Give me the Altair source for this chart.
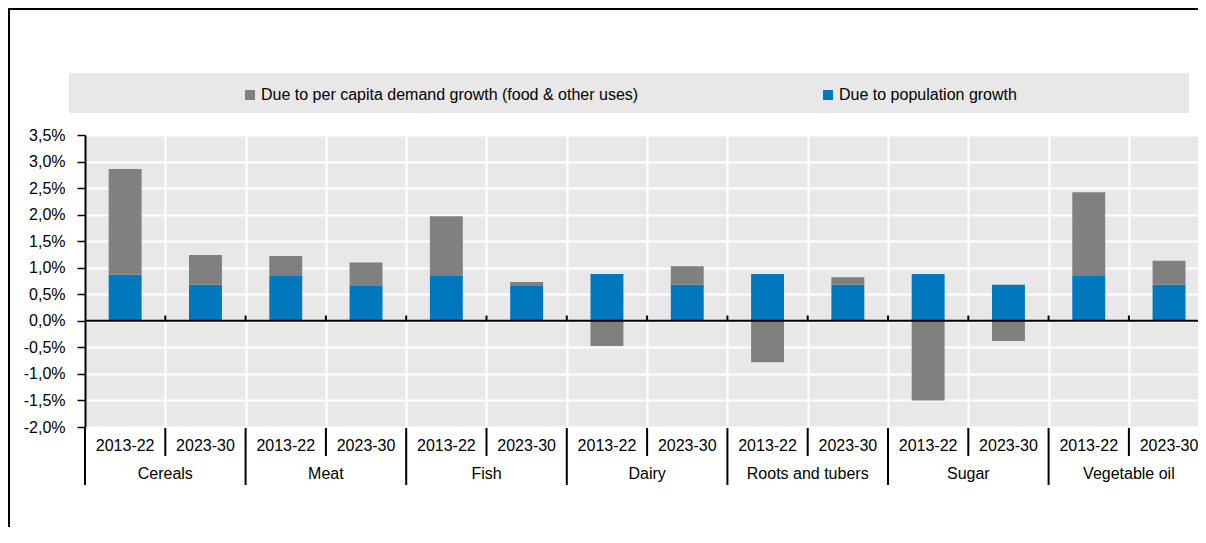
import altair as alt
import pandas as pd

# ---- data ----
groups = ["Cereals", "Meat", "Fish", "Dairy", "Roots and tubers", "Sugar", "Vegetable oil"]
periods = ["2013-22", "2023-30"]
series_names = [
    "Due to per capita demand growth (food & other uses)",
    "Due to population growth",
]
pop_growth = [0.87, 0.68, 0.86, 0.67, 0.86, 0.67, 0.88, 0.68, 0.88, 0.68, 0.88, 0.68, 0.86, 0.68]
per_capita = [1.99, 0.56, 0.36, 0.43, 1.11, 0.06, -0.475, 0.35, -0.78, 0.14, -1.50, -0.38, 1.56, 0.45]
y_ticks = [-2.0, -1.5, -1.0, -0.5, 0.0, 0.5, 1.0, 1.5, 2.0, 2.5, 3.0, 3.5]

# ---- tables built from the arrays ----
rows = []
lab_rows = []
for gi, g in enumerate(groups):
    for pi, p in enumerate(periods):
        i = gi * len(periods) + pi
        rows.append(dict(idx=i, group=g, period=p, series=series_names[1], value=pop_growth[i], order=0))
        rows.append(dict(idx=i, group=g, period=p, series=series_names[0], value=per_capita[i], order=1))
        lab_rows.append(dict(center=i + 0.5, period=p))
df = pd.DataFrame(rows)
labels_df = pd.DataFrame(lab_rows)
groups_df = pd.DataFrame({"group": groups, "center": [len(periods) * k + 1 for k in range(len(groups))]})
n = len(groups) * len(periods)
inner_bounds = pd.DataFrame({"b": list(range(1, n)), "y0": [0.0] * (n - 1), "y1": [0.1] * (n - 1)})
period_seps = pd.DataFrame({"b": [b for b in range(n + 1) if b % 2 == 1]})
group_seps = pd.DataFrame({"b": [b for b in range(n + 1) if b % 2 == 0]})

# ---- layout ----
W, H = 1113, 292
STEP = 80.3
PAD_L, PAD_T, PAD_B = 77, 127, 100
FONT = "Liberation Sans, Arial, sans-serif"
BG = "#E8E8E8"
GRAY = "#808080"
BLUE = "#0078BE"

xscale = alt.Scale(domain=[0, W / STEP], nice=False, zero=False)
yscale = alt.Scale(domain=[-2.0, 3.5], nice=False, zero=False)

label_expr = ("(datum.value < 0 ? '-' : '') + replace(format(abs(datum.value), '.1f'), '.', ',') + '%'")

XAX = alt.Axis(values=list(range(1, n)), grid=True, gridColor="white", gridWidth=2,
               labels=False, ticks=False, domain=False, title=None)
YAX = alt.Axis(values=y_ticks, grid=True, gridColor="white", gridWidth=2,
               domain=True, domainColor="black", domainWidth=2,
               ticks=True, tickColor="black", tickSize=8, tickWidth=1.5,
               labelExpr=label_expr, labelFontSize=16, labelColor="black",
               labelFont=FONT, labelPadding=12, title=None)

one = pd.DataFrame({"z": [0.0]})

legend_box = alt.Chart(one).mark_rect(color=BG).encode(
    x=alt.value(-16), x2=alt.value(1104), y=alt.value(-62), y2=alt.value(-22)
)

bars = (
    alt.Chart(df)
    .transform_stack(stack="value", groupby=["idx"], as_=["v0", "v1"],
                     sort=[alt.SortField("order", order="ascending")])
    .transform_calculate(lo="datum.idx + 0.295", hi="datum.idx + 0.705")
    .mark_bar()
    .encode(
        x=alt.X("lo:Q", scale=xscale, axis=XAX),
        x2="hi:Q",
        y=alt.Y("v0:Q", scale=yscale, axis=YAX),
        y2="v1:Q",
        color=alt.Color(
            "series:N",
            scale=alt.Scale(domain=series_names, range=[GRAY, BLUE]),
            legend=alt.Legend(
                orient="none", legendX=157, legendY=-48, direction="horizontal", title=None,
                symbolType="square", symbolSize=100, symbolStrokeWidth=0, symbolOpacity=1,
                labelFontSize=16, labelFont=FONT, labelColor="black", labelOffset=3,
                labelLimit=1000, columnPadding=181, padding=0,
            ),
        ),
    )
)

zero_line = alt.Chart(one).mark_rule(color="black", strokeWidth=2).encode(
    y=alt.Y("z:Q", scale=yscale, axis=YAX)
)

zero_ticks = alt.Chart(inner_bounds).mark_rule(color="black", strokeWidth=2).encode(
    x=alt.X("b:Q", scale=xscale, axis=XAX),
    y=alt.Y("y0:Q", scale=yscale, axis=YAX),
    y2="y1:Q",
)

period_text = alt.Chart(labels_df).mark_text(
    fontSize=16, font=FONT, color="black", baseline="middle", align="center"
).encode(
    x=alt.X("center:Q", scale=xscale, axis=XAX),
    y=alt.value(H + 19),
    text="period:N",
)

group_text = alt.Chart(groups_df).mark_text(
    fontSize=16, font=FONT, color="black", baseline="middle", align="center"
).encode(
    x=alt.X("center:Q", scale=xscale, axis=XAX),
    y=alt.value(H + 47),
    text="group:N",
)

period_sep = alt.Chart(period_seps).mark_rule(color="black", strokeWidth=2).encode(
    x=alt.X("b:Q", scale=xscale, axis=XAX), y=alt.value(H + 1), y2=alt.value(H + 29)
)
group_sep = alt.Chart(group_seps).mark_rule(color="black", strokeWidth=2).encode(
    x=alt.X("b:Q", scale=xscale, axis=XAX), y=alt.value(H + 1), y2=alt.value(H + 58)
)

top_border = alt.Chart(one).mark_rule(color="black", strokeWidth=2).encode(
    x=alt.value(-PAD_L), x2=alt.value(W), y=alt.value(-PAD_T + 1)
)
left_border = alt.Chart(one).mark_rule(color="black", strokeWidth=2).encode(
    x=alt.value(-PAD_L + 1), y=alt.value(-PAD_T), y2=alt.value(H + PAD_B)
)

chart = (
    alt.layer(legend_box, bars, zero_line, zero_ticks, period_text, group_text,
              period_sep, group_sep, top_border, left_border)
    .properties(
        width=W, height=H,
        padding={"left": PAD_L, "top": PAD_T, "right": 0, "bottom": PAD_B},
        autosize=alt.AutoSizeParams(type="none"),
    )
    .configure(font=FONT, background="white")
    .configure_view(strokeWidth=0, fill=BG)
)

chart.save("out.html", embed_options={"renderer": "svg", "actions": False})
